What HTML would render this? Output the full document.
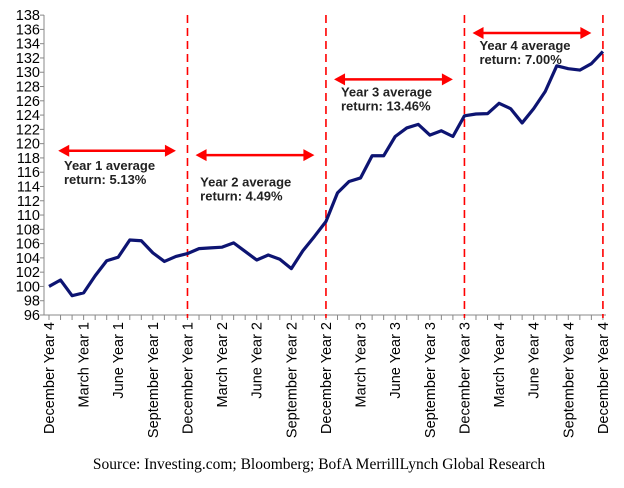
<!DOCTYPE html>
<html><head><meta charset="utf-8"><style>
body{margin:0;background:#fff}
svg{display:block;font-family:"Liberation Sans",Arial,sans-serif}
</style></head><body>
<svg width="624" height="488" xmlns="http://www.w3.org/2000/svg">
<g id="axes"></g><g id="marks"></g>
<text x="319" y="469" text-anchor="middle" font-family="Liberation Serif,serif" font-size="15.5">Source: Investing.com; Bloomberg; BofA MerrillLynch Global Research</text>
</svg>
<script>
const values=[100.0,100.9,98.7,99.1,101.5,103.6,104.1,106.5,106.4,104.7,103.5,104.2,104.6,
105.3,105.4,105.5,106.1,104.9,103.7,104.4,103.8,102.5,105.0,107.0,109.1,
113.1,114.7,115.2,118.3,118.3,121.0,122.2,122.7,121.2,121.8,121.0,123.9,
124.15,124.2,125.65,124.9,122.9,124.9,127.3,130.9,130.5,130.3,131.2,132.9];
const yTicks=[96,98,100,102,104,106,108,110,112,114,116,118,120,122,124,126,128,130,132,134,136,138];
const xLabels=["December Year 4","March Year 1","June Year 1","September Year 1","December Year 1","March Year 2","June Year 2","September Year 2","December Year 2","March Year 3","June Year 3","September Year 3","December Year 3","March Year 4","June Year 4","September Year 4","December Year 4"];
const dividers=[12,24,36,48];
const annotations=[{s:0.8,e:11.0,y:119,t:["Year 1 average","return: 5.13%"],tx:1.3,ty:116.3},
{s:12.7,e:23.0,y:118.4,t:["Year 2 average","return: 4.49%"],tx:13.1,ty:114.0},
{s:24.7,e:35.0,y:129.0,t:["Year 3 average","return: 13.46%"],tx:25.3,ty:126.6},
{s:36.7,e:47.0,y:135.5,t:["Year 4 average","return: 7.00%"],tx:37.3,ty:133.1}];
const NS="http://www.w3.org/2000/svg";
const X=i=>49+i*11.54, Y=v=>315-(v-96)*7.14;
const ax=document.getElementById('axes'), mk=document.getElementById('marks');
function el(t,a,p){const e=document.createElementNS(NS,t);for(const k in a)e.setAttribute(k,a[k]);p.appendChild(e);return e;}
let e=el('line',{x1:44,y1:15,x2:44,y2:315,stroke:'#888'},ax);


e=el('line',{x1:44,y1:315,x2:606,y2:315,stroke:'#888'},ax);


yTicks.forEach(v=>{
 el('line',{x1:40,x2:44,y1:Y(v),y2:Y(v),stroke:'#888'},ax);
 const t=el('text',{x:40,y:Y(v)+5,'text-anchor':'end','font-size':14.5},ax);t.textContent=v;
 
 
});
for(let i=0;i<values.length;i++){el('line',{x1:X(i),x2:X(i),y1:315,y2:320,stroke:'#888'},ax);}
xLabels.forEach((l,k)=>{const x=X(k*3)+5;
 const t=el('text',{x:0,y:0,transform:`translate(${x},322) rotate(-90)`,'text-anchor':'end','font-size':14.5},ax);t.textContent=l;
 
 
});
dividers.forEach(i=>{const d=el('line',{x1:X(i),x2:X(i),y1:15,y2:318,stroke:'#f00','stroke-width':1.6,'stroke-dasharray':'8,5'},mk);
 
 });
const p=el('polyline',{points:values.map((v,i)=>X(i)+','+Y(v)).join(' '),fill:'none',stroke:'#0d1472','stroke-width':3.2,'stroke-linejoin':'round'},mk);


annotations.forEach(a=>{const y=Y(a.y),x1=X(a.s),x2=X(a.e);
 const g=el('g',{},mk);
 
 
 el('line',{x1:x1+8,x2:x2-8,y1:y,y2:y,stroke:'#f00','stroke-width':2.5},g);
 el('polygon',{points:`${x1},${y} ${x1+11},${y-6} ${x1+11},${y+6}`,fill:'#f00'},g);
 el('polygon',{points:`${x2},${y} ${x2-11},${y-6} ${x2-11},${y+6}`,fill:'#f00'},g);
 a.t.forEach((s,j)=>{const t=el('text',{x:X(a.tx),y:Y(a.ty)+j*14,'font-size':13,'font-weight':'bold',fill:'#222'},mk);t.textContent=s;
  
  });
});
</script>
</body></html>
